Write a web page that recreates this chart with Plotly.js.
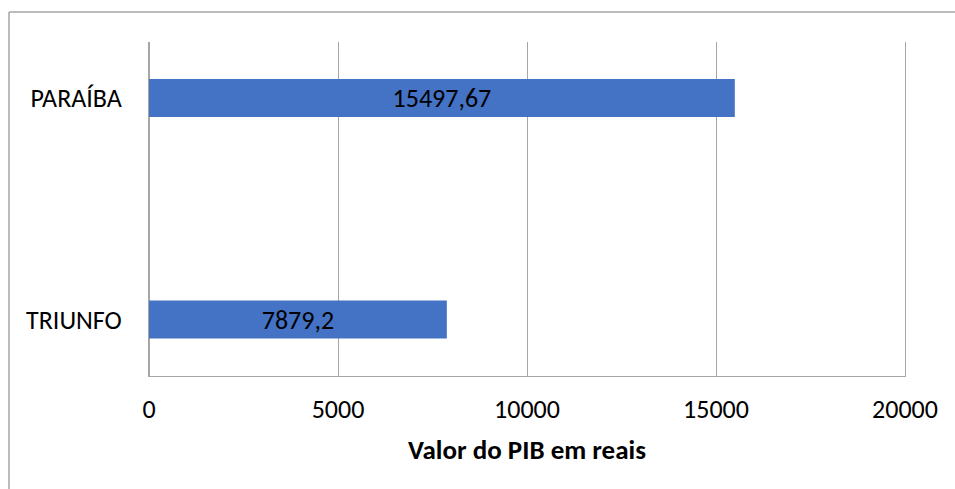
<!DOCTYPE html>
<html>
<head>
<meta charset="utf-8">
<script src="https://cdn.plot.ly/plotly-3.0.1.min.js"></script>
<style>html,body{margin:0;padding:0;background:#fff;}#chart{width:955px;height:489px;}</style>
</head>
<body>
<div id="chart"></div>
<script>
const categories = ["TRIUNFO", "PARAÍBA"];
const values = [7879.2, 15497.67];
const valueLabels = ["7879,2", "15497,67"];
const xTicks = [0, 5000, 10000, 15000, 20000];

const font = "Carlito, Lato, 'Open Sans', sans-serif";
const grid = "#a6a6a6";
const fs = 26;

Plotly.newPlot("chart", [{
  type: "bar",
  orientation: "h",
  y: categories,
  x: values,
  text: valueLabels,
  textposition: "inside",
  insidetextanchor: "middle",
  textfont: {family: font, size: fs, color: "#000"},
  marker: {color: "#4472C4"},
  width: 0.172,
  hoverinfo: "none"
}], {
  width: 955, height: 489,
  margin: {l: 149, r: 50, t: 42, b: 113},
  paper_bgcolor: "#fff", plot_bgcolor: "#fff",
  showlegend: false,
  font: {family: font, size: fs, color: "#000"},
  xaxis: {
    range: [0, 20000],
    tickvals: xTicks,
    ticktext: xTicks.map(String),
    showgrid: true, gridcolor: grid, gridwidth: 1,
    zeroline: true, zerolinecolor: grid, zerolinewidth: 1,
    showline: true, linecolor: grid, linewidth: 1,
    ticks: "outside", ticklen: 10, tickcolor: "rgba(0,0,0,0)",
    tickfont: {family: font, size: fs, color: "#000"},
    title: {text: "Valor do PIB em reais", font: {family: font, size: 27, color: "#000", weight: "bold"}, standoff: 15},
    automargin: false, fixedrange: true
  },
  yaxis: {
    range: [-0.255, 1.253],
    showgrid: false, zeroline: false,
    showline: true, mirror: true, linecolor: grid, linewidth: 1,
    ticks: "outside", ticklen: 21, tickcolor: "rgba(0,0,0,0)",
    tickfont: {family: font, size: fs, color: "#000"},
    automargin: false, fixedrange: true
  },
  shapes: [
    {type: "line", xref: "paper", yref: "paper", x0: -0.1852, x1: -0.1852, y0: 1.0898, y1: -0.6, line: {color: "#a6a6a6", width: 1.5}},
    {type: "line", xref: "paper", yref: "paper", x0: -0.1852, x1: 1.2, y0: 1.0898, y1: 1.0898, line: {color: "#a6a6a6", width: 1.5}}
  ]
}, {displayModeBar: false, staticPlot: true});
</script>
</body>
</html>
